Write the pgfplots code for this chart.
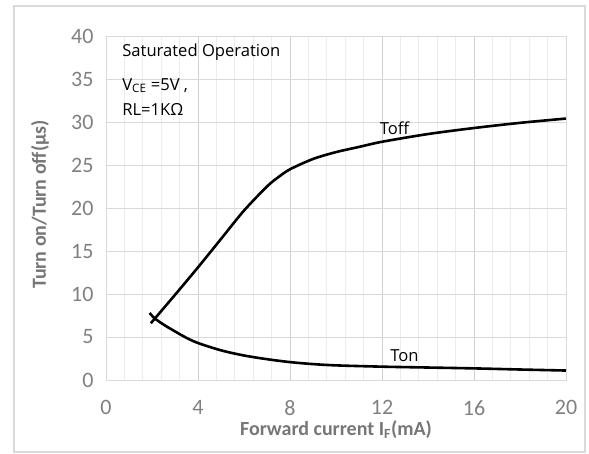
\documentclass[border=0pt]{standalone}
\usepackage{fontspec}
\setmainfont{Carlito}
\newfontfamily\annot{Open Sans}
\usepackage{pgfplots}
\pgfplotsset{compat=1.18}
\definecolor{framegray}{HTML}{D9D9D9}
\definecolor{gridmaj}{HTML}{D0D0D0}
\definecolor{gridmin}{HTML}{ECECEC}
\definecolor{gridy}{HTML}{D9D9D9}
\definecolor{ticktxt}{HTML}{808080}
\definecolor{labtxt}{HTML}{767676}
\begin{document}
\begin{tikzpicture}[x=1pt,y=1pt]
\path[use as bounding box] (-106,-74) rectangle (483,380);
\draw[color=framegray, line width=1.5pt] (-92,-72) rectangle (479,374);
\begin{axis}[
  at={(0,0)}, anchor=south west,
  scale only axis, width=460pt, height=344pt,
  xmin=0, xmax=20, ymin=0, ymax=40,
  xtick={0,4,...,20}, ytick={0,5,...,40},
  minor x tick num=4,
  xmajorgrids=true, xminorgrids=true, ymajorgrids=true,
  major x grid style={color=gridmaj, line width=0.8pt},
  minor x grid style={color=gridmin, line width=0.8pt},
  major y grid style={color=gridy, line width=0.8pt},
  major tick length=0pt, minor tick length=0pt,
  axis line style={color=gridy, line width=0.8pt},
  /pgf/number format/assume math mode=true,
  ticklabel style={font=\fontsize{22}{26}\selectfont, color=ticktxt},
  yticklabel style={xshift=-9pt},
  xticklabel style={yshift=-17pt},
  xlabel={Forward current I\textsubscript{F}(mA)},
  ylabel={Turn on/Turn off(μs)},
  label style={font=\bfseries\fontsize{20}{24}\selectfont, color=labtxt},
  xlabel style={at={(axis description cs:0.5,-0.145)}, anchor=center},
  ylabel style={at={(axis description cs:-0.1435,0.51)}, anchor=center},
]
\addplot[black, line width=2.6pt, smooth, tension=0.5] coordinates {
(1.95,6.6) (3,9.9) (4,13.1) (5,16.4) (6,19.7) (7,22.5) (7.5,23.6) (8,24.5)
(9,25.7) (10,26.5) (11,27.1) (12,27.7) (14,28.6) (16,29.3) (18,29.9) (20,30.4)};
\addplot[black, line width=2.6pt, smooth, tension=0.5] coordinates {
(1.9,7.8) (2.1,7.2) (2.5,6.45) (3,5.65) (3.5,4.9) (4,4.3) (5,3.45) (6,2.85) (7,2.42)
(8,2.08) (9,1.85) (10,1.7) (12,1.55) (14,1.45) (16,1.35) (18,1.22) (20,1.1)};
\node[anchor=base west, inner sep=0pt, font=\annot\fontsize{16.6}{19}\selectfont] at (axis cs:0.7,37.6) {Saturated Operation};
\node[anchor=base west, inner sep=0pt, font=\annot\fontsize{16.6}{19}\selectfont] at (axis cs:0.7,33.7) {V\textsubscript{CE} =5V ,};
\node[anchor=base west, inner sep=0pt, font=\annot\fontsize{16.6}{19}\selectfont] at (axis cs:0.7,30.8) {RL=1KΩ};
\node[anchor=base west, inner sep=0pt, font=\annot\fontsize{16.6}{19}\selectfont] at (axis cs:11.9,28.5) {Toff};
\node[anchor=base west, inner sep=0pt, font=\annot\fontsize{16.6}{19}\selectfont] at (axis cs:12.35,2.2) {Ton};
\end{axis}
\end{tikzpicture}
\end{document}
